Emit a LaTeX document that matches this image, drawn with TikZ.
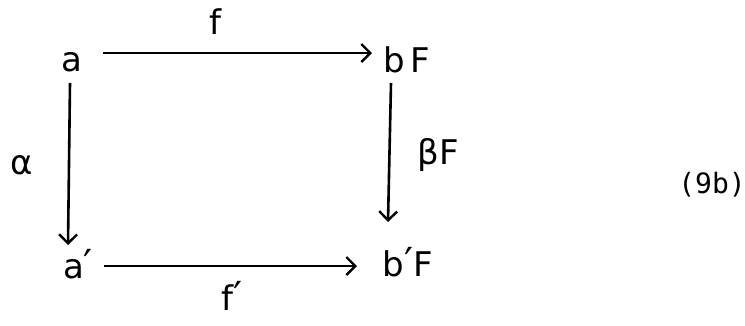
\documentclass[tikz,border=0pt]{standalone}
\usepackage{fontspec}
\setmainfont{DejaVu Sans}
\newfontfamily\monof{DejaVu Sans Mono}
\usetikzlibrary{arrows.meta}
\newcommand{\pr}{{\fontsize{40}{40}\selectfont ′}}
\begin{document}
\begin{tikzpicture}[x=1pt,y=-1pt,
  obj/.style={inner sep=0pt,font=\fontsize{34}{34}\selectfont},
  lbl/.style={inner sep=0pt,font=\fontsize{34}{34}\selectfont},
  arr/.style={line width=2.6pt,-{Straight Barb[length=9pt,width=18pt,line width=2.4pt]}}]
\useasboundingbox (0,0) rectangle (745,325);
\node[obj] (a) at (72,62) {a};
\node[obj] (bF) at (407,60) {b\,F};
\node[obj] (a2) at (78,264) {a\pr};
\node[obj] (b2F) at (408,262) {b\pr F};
\coordinate (t1) at (103,53);
\coordinate (t2) at (372,53);
\coordinate (l1) at (70,83);
\coordinate (l2) at (68,245);
\coordinate (r1) at (391,83);
\coordinate (r2) at (388,222);
\coordinate (b1) at (104,266);
\coordinate (b2) at (357,266);
\draw[arr] (t1) -- (t2);
\draw[arr] (l1) -- (l2);
\draw[arr] (r1) -- (r2);
\draw[arr] (b1) -- (b2);
\node[lbl] (f) at (215,22) {f};
\node[lbl] (al) at (22,165) {α};
\node[lbl] (be) at (438,155) {βF};
\node[lbl] (f2) at (232,296) {f\pr};
\node[inner sep=0pt,font=\fontsize{28}{28}\monof] (eq) at (712,185) {(9b)};
\end{tikzpicture}
\end{document}
